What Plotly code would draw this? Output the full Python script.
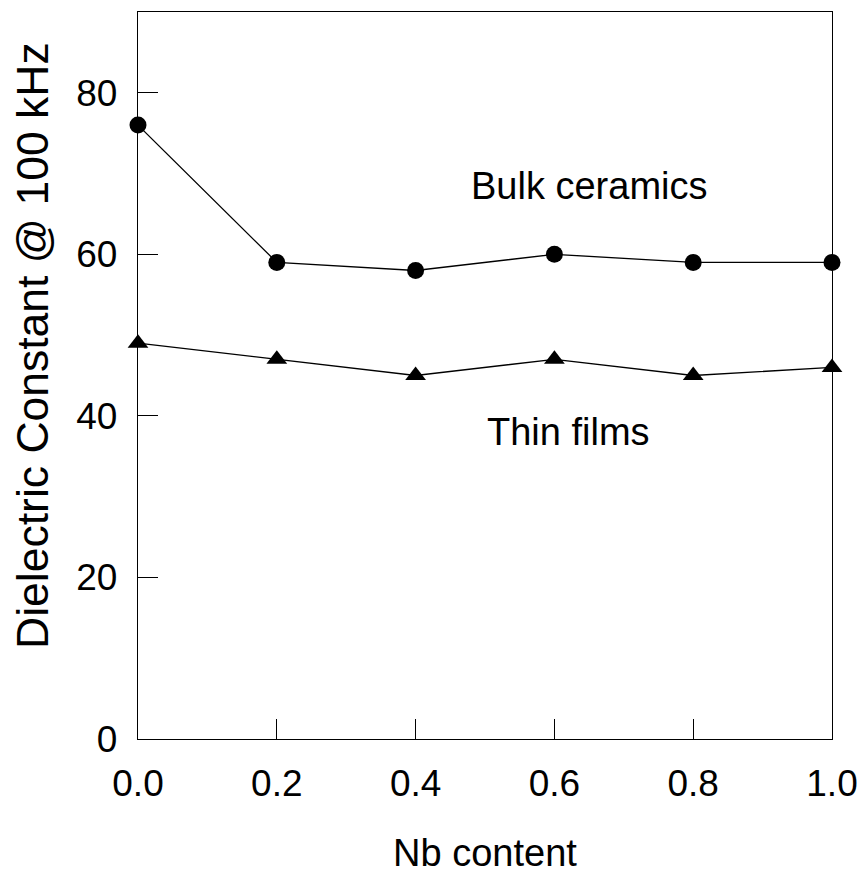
import plotly.graph_objects as go

nb_content = [0.0, 0.2, 0.4, 0.6, 0.8, 1.0]
bulk_ceramics = [76, 59, 58, 60, 59, 59]
thin_films = [49, 47, 45, 47, 45, 46]

x_ticks = [0.0, 0.2, 0.4, 0.6, 0.8, 1.0]
x_tick_labels = ["0.0", "0.2", "0.4", "0.6", "0.8", "1.0"]
y_ticks = [0, 20, 40, 60, 80]
y_tick_labels = ["0", "20", "40", "60", "80"]

FONT = "Liberation Sans, Arial, sans-serif"

fig = go.Figure()
fig.add_trace(go.Scatter(
    x=nb_content, y=bulk_ceramics, mode="lines+markers",
    line=dict(color="black", width=1.3),
    marker=dict(symbol="circle", size=17, color="black"),
    cliponaxis=False, showlegend=False))
fig.add_trace(go.Scatter(
    x=nb_content, y=thin_films, mode="lines+markers",
    line=dict(color="black", width=1.3),
    marker=dict(symbol="triangle-up", size=18, color="black"),
    cliponaxis=False, showlegend=False))

fig.add_annotation(x=0.651, y=68.4, text="Bulk ceramics", showarrow=False,
                   xref="x", yref="y", font=dict(family=FONT, size=38, color="black"))
fig.add_annotation(x=0.62, y=38.0, text="Thin films", showarrow=False,
                   xref="x", yref="y", font=dict(family=FONT, size=38, color="black"))
# y-axis title (placed as annotation: it sits slightly above the plot centre)
fig.add_annotation(x=-0.1513, y=0.542, xref="paper", yref="paper",
                   text="Dielectric Constant @ 100 kHz", textangle=-90,
                   showarrow=False, xanchor="center", yanchor="middle",
                   font=dict(family=FONT, size=44.5, color="black"))

# page body adds an 8px margin; compensate in figure size and margins
fig.update_layout(
    width=858, height=868,
    margin=dict(l=130, r=34, t=4, b=137),
    paper_bgcolor="white", plot_bgcolor="white",
    font=dict(family=FONT, color="black"),
)
fig.update_xaxes(
    range=[0, 1], tickvals=x_ticks, ticktext=x_tick_labels,
    ticks="inside", ticklen=20, tickwidth=1.3, tickcolor="black",
    showline=True, linecolor="black", linewidth=1.3, mirror=True,
    showgrid=False, zeroline=False,
    tickfont=dict(family=FONT, size=37), ticklabelstandoff=11,
    title=dict(text="Nb content", font=dict(family=FONT, size=38), standoff=36),
)
fig.update_yaxes(
    range=[0, 90], tickvals=y_ticks, ticktext=y_tick_labels,
    ticks="inside", ticklen=20, tickwidth=1.3, tickcolor="black",
    showline=True, linecolor="black", linewidth=1.3, mirror=True,
    showgrid=False, zeroline=False,
    tickfont=dict(family=FONT, size=37), ticklabelstandoff=12,
)

fig.write_html("out.html")
